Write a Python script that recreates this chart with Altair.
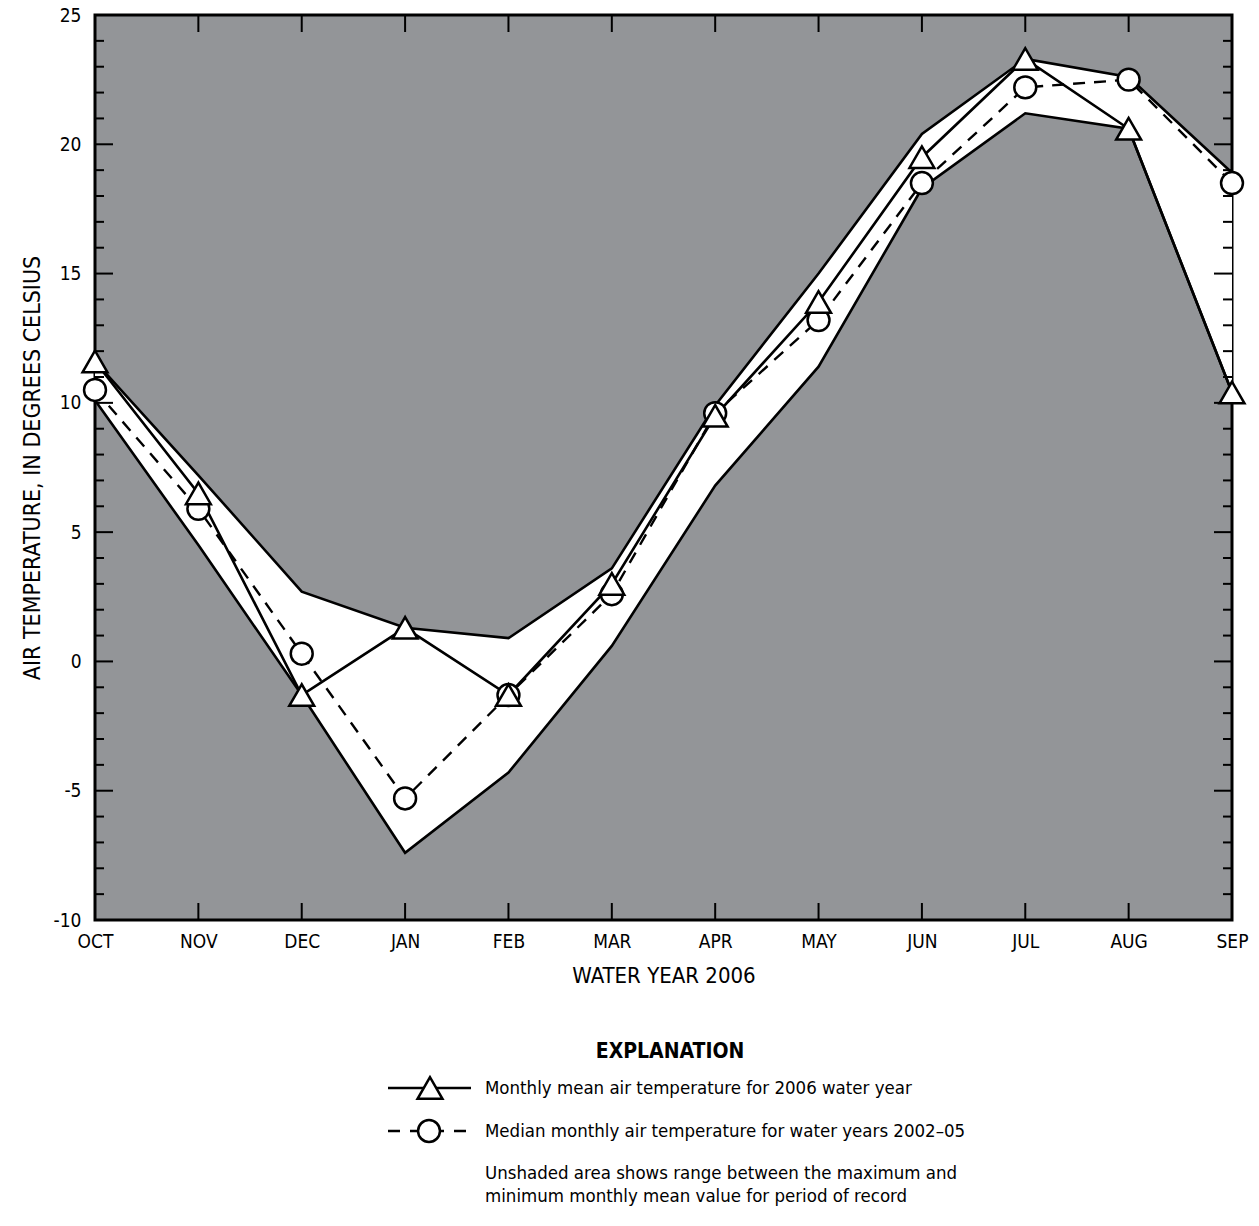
import altair as alt
import pandas as pd

months = ["OCT", "NOV", "DEC", "JAN", "FEB", "MAR", "APR", "MAY", "JUN", "JUL", "AUG", "SEP"]
mean_2006 = [11.6, 6.5, -1.3, 1.3, -1.3, 3.0, 9.5, 13.9, 19.5, 23.3, 20.6, 10.4]
median_0205 = [10.5, 5.9, 0.3, -5.3, -1.3, 2.6, 9.6, 13.2, 18.5, 22.2, 22.5, 18.5]
max_record = [11.6, 7.2, 2.7, 1.3, 0.9, 3.6, 9.9, 15.0, 20.4, 23.3, 22.6, 18.9]
min_record = [10.1, 4.5, -1.3, -7.4, -4.3, 0.6, 6.8, 11.4, 18.3, 21.2, 20.6, 10.4]

y_major = [-10, -5, 0, 5, 10, 15, 20, 25]
y_minor = [v for v in range(-10, 26) if v % 5 != 0]

legend_title = "EXPLANATION"
legend_texts = [
    "Monthly mean air temperature for 2006 water year",
    "Median monthly air temperature for water years 2002\u201305",
    "Unshaded area shows range between the maximum and",
    "minimum monthly mean value for period of record",
]

W, H = 1137, 905
FONT = "DejaVu Sans Condensed, Liberation Sans Narrow, sans-serif"
GRAY = "#939598"

df = pd.DataFrame({
    "i": list(range(len(months))),
    "month": months,
    "mean": mean_2006,
    "median": median_0205,
    "hi": max_record,
    "lo": min_record,
})

label_expr = "[" + ",".join("'%s'" % m for m in months) + "][datum.value]"

xs = alt.Scale(domain=[0, 11], nice=False, zero=False)
ys = alt.Scale(domain=[-10, 25], nice=False, zero=False)

X = alt.X("i:Q", scale=xs, axis=alt.Axis(
    values=list(range(12)), labelExpr=label_expr, ticks=False, domain=False, grid=False,
    labelFontSize=19, labelFont=FONT, labelColor="black", labelPadding=12,
    title="WATER YEAR 2006", titleFont=FONT, titleFontSize=22, titleFontWeight="normal",
    titleColor="black", titlePadding=14, labelFlush=False))
Y_axis = alt.Axis(
    values=y_major, ticks=False, domain=False, grid=False,
    labelExpr="datum.value < 0 ? '-' + abs(datum.value) : '' + datum.value",
    labelFontSize=19, labelFont=FONT, labelColor="black", labelPadding=14,
    title="AIR TEMPERATURE, IN DEGREES CELSIUS", titleFont=FONT, titleFontSize=23,
    titleFontWeight="normal", titleColor="black", titlePadding=9)

base = alt.Chart(df)

band = base.mark_area(color="white", opacity=1).encode(
    x=X, y=alt.Y("hi:Q", scale=ys, axis=Y_axis), y2="lo:Q")
hi_line = base.mark_line(color="black", strokeWidth=2.6).encode(
    x=alt.X("i:Q", scale=xs), y=alt.Y("hi:Q", scale=ys))
lo_line = base.mark_line(color="black", strokeWidth=2.6).encode(
    x=alt.X("i:Q", scale=xs), y=alt.Y("lo:Q", scale=ys))
med_line = base.mark_line(color="black", strokeWidth=2.4, strokeDash=[12, 9]).encode(
    x=alt.X("i:Q", scale=xs), y=alt.Y("median:Q", scale=ys))
mean_line = base.mark_line(color="black", strokeWidth=2.6).encode(
    x=alt.X("i:Q", scale=xs), y=alt.Y("mean:Q", scale=ys))
med_pts = base.mark_point(shape="circle", size=480, filled=True, fill="white",
                          stroke="black", strokeWidth=2.5, opacity=1).encode(
    x=alt.X("i:Q", scale=xs), y=alt.Y("median:Q", scale=ys))
mean_pts = base.mark_point(shape="triangle-up", size=620, filled=True, fill="white",
                           stroke="black", strokeWidth=2.5, opacity=1).encode(
    x=alt.X("i:Q", scale=xs), y=alt.Y("mean:Q", scale=ys))

# inward ticks
df_major = pd.DataFrame({"v": y_major})
df_minor = pd.DataFrame({"v": y_minor})
tick_layers = []
for d, ln in ((df_major, 18), (df_minor, 9)):
    tick_layers.append(alt.Chart(d).mark_rule(color="black", strokeWidth=2).encode(
        y=alt.Y("v:Q", scale=ys), x=alt.value(0), x2=alt.value(ln)))
    tick_layers.append(alt.Chart(d).mark_rule(color="black", strokeWidth=2).encode(
        y=alt.Y("v:Q", scale=ys), x=alt.value(W), x2=alt.value(W - ln)))
mt = pd.DataFrame({"i": list(range(1, 11))})
tick_layers.append(alt.Chart(mt).mark_rule(color="black", strokeWidth=2).encode(
    x=alt.X("i:Q", scale=xs), y=alt.value(0), y2=alt.value(17)))
tick_layers.append(alt.Chart(mt).mark_rule(color="black", strokeWidth=2).encode(
    x=alt.X("i:Q", scale=xs), y=alt.value(H), y2=alt.value(H - 17)))

# legend
leg_title = alt.Chart(pd.DataFrame({"t": [legend_title]})).mark_text(
    font=FONT, fontSize=21, fontWeight="bold", align="center", baseline="middle", color="black"
).encode(text="t:N", x=alt.value(575), y=alt.value(1037))

ty = [1073, 1116, 1158, 1181]
leg_text_layers = []
for t, yy in zip(legend_texts, ty):
    leg_text_layers.append(alt.Chart(pd.DataFrame({"t": [t]})).mark_text(
        font=FONT, fontSize=18.5, align="left", baseline="middle", color="black"
    ).encode(text="t:N", x=alt.value(390), y=alt.value(yy)))

one = pd.DataFrame({"k": [0]})
leg_line1 = alt.Chart(one).mark_rule(color="black", strokeWidth=2.6).encode(
    x=alt.value(293), x2=alt.value(376), y=alt.value(1073))
leg_tri = alt.Chart(one).mark_point(shape="triangle-up", size=620, filled=True, fill="white",
                                    stroke="black", strokeWidth=2.5, opacity=1).encode(
    x=alt.value(335), y=alt.value(1073))
leg_line2 = alt.Chart(one).mark_rule(color="black", strokeWidth=2.4, strokeDash=[12, 10]).encode(
    x=alt.value(293), x2=alt.value(377), y=alt.value(1116))
leg_circ = alt.Chart(one).mark_point(shape="circle", size=480, filled=True, fill="white",
                                     stroke="black", strokeWidth=2.5, opacity=1).encode(
    x=alt.value(334), y=alt.value(1116))

chart = alt.layer(
    band, hi_line, lo_line, *tick_layers, med_line, mean_line, med_pts, mean_pts,
    leg_title, *leg_text_layers, leg_line1, leg_tri, leg_line2, leg_circ
).properties(
    width=W, height=H,
    padding={"left": 95, "top": 15, "right": 27, "bottom": 306},
    autosize=alt.AutoSizeParams(type="none"),
    background="white",
).configure_view(
    fill=GRAY, stroke="black", strokeWidth=3
)

chart.save("out.html", embed_options={"renderer": "svg", "actions": False})
